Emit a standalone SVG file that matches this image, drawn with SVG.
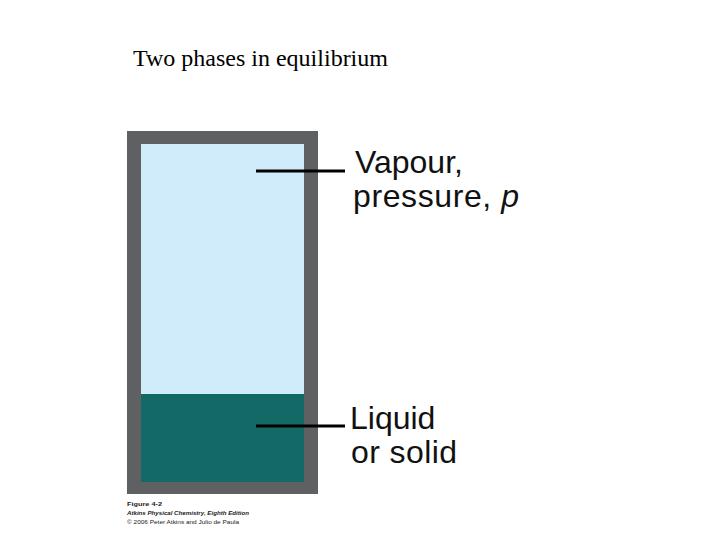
<svg xmlns="http://www.w3.org/2000/svg" width="720" height="540" viewBox="0 0 720 540">
<style>
.lbl{font-family:"Liberation Sans",Arial,sans-serif;font-size:32px;fill:#111}
.cap{font-family:"Liberation Sans",Arial,sans-serif;font-size:6px;fill:#222}
.lead{stroke:#000;stroke-width:3;fill:none}
</style>
<rect width="720" height="540" fill="#fff"/>
<text x="133" y="66" font-family="Liberation Serif,'Times New Roman',serif" font-size="24" fill="#000">Two phases in equilibrium</text>
<g id="container">
<rect x="127" y="131" width="191" height="363" fill="#5f6062"/>
</g>
<g id="vapour">
<rect x="141" y="144" width="163" height="250" fill="#d0ecfb"/>
</g>
<g id="liquid">
<rect x="141" y="394" width="163" height="88" fill="#126966"/>
</g>
<g id="connectors">
<line class="lead" x1="256" y1="171" x2="345" y2="171"/>
<line class="lead" x1="256" y1="426" x2="345" y2="426"/>
</g>
<g id="vapour-label">
<text class="lbl" x="355" y="173">Vapour,</text>
<text class="lbl" x="353" y="207" letter-spacing="0.6">pressure, <tspan font-style="italic">p</tspan></text>
</g>
<g id="liquid-label">
<text class="lbl" x="350" y="429">Liquid</text>
<text class="lbl" x="351" y="463" letter-spacing="0.4">or solid</text>
</g>
<g id="caption">
<text class="cap" x="127" y="506" font-weight="bold" textLength="35" lengthAdjust="spacingAndGlyphs">Figure 4-2</text>
<text class="cap" x="127" y="515" font-weight="bold" font-style="italic" textLength="122" lengthAdjust="spacingAndGlyphs">Atkins Physical Chemistry, Eighth Edition</text>
<text class="cap" x="127" y="524" textLength="112" lengthAdjust="spacingAndGlyphs">© 2006 Peter Atkins and Julio de Paula</text>
</g>
</svg>
